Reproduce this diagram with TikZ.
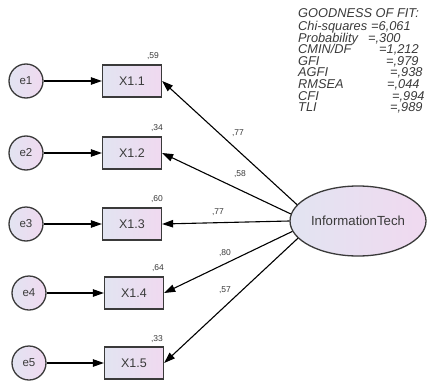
\documentclass[tikz,border=0pt]{standalone}
\usepackage{fontspec}
\newfontfamily\arial{Liberation Sans}
\usetikzlibrary{arrows.meta,shapes.geometric,shadings}
\definecolor{lblue}{HTML}{E2E4F1}
\definecolor{lpink}{HTML}{F0D9F0}
\definecolor{edge}{HTML}{3A3A3A}
\definecolor{txt}{HTML}{3A3A3A}
\tikzset{
  obs/.style={draw=edge, line width=1.3pt, left color=lblue, right color=lpink,
    minimum width=59pt, minimum height=32pt, inner sep=0pt,
    font=\arial\fontsize{12.5}{14}\selectfont, text=txt},
  err/.style={circle, draw=edge, line width=1.3pt, left color=lblue, right color=lpink,
    minimum size=34pt, inner sep=0pt, font=\arial\fontsize{11.5}{13}\selectfont, text=txt},
  lat/.style={ellipse, draw=edge, line width=1.3pt, left color=lblue, right color=lpink,
    minimum width=136pt, minimum height=70pt, inner sep=0pt,
    font=\arial\fontsize{13.2}{15}\selectfont, text=txt},
  arr/.style={-{Triangle[length=11pt,width=7.5pt]}, line width=1.1pt, draw=black},
  small/.style={font=\arial\fontsize{8.5}{9}\selectfont, text=txt, inner sep=0pt},
  gof/.style={font=\arial\itshape\fontsize{12.8}{14}\selectfont, text=txt, inner sep=0pt, anchor=base west},
}
\begin{document}
\begin{tikzpicture}[x=1pt,y=-1pt]
\useasboundingbox (0,0) rectangle (427,385);
% observed
\node[obs] (x1) at (132,81) {X1.1};
\node[obs] (x2) at (132,153) {X1.2};
\node[obs] (x3) at (132,224) {X1.3};
\node[obs] (x4) at (134,293) {X1.4};
\node[obs] (x5) at (134,363) {X1.5};
% errors
\node[err] (e1) at (26,81) {e1};
\node[err] (e2) at (26,153) {e2};
\node[err] (e3) at (26,224) {e3};
\node[err] (e4) at (29,293) {e4};
\node[err] (e5) at (29,363) {e5};
% latent
\node[lat] (it) at (358,221) {InformationTech};
% error arrows
\foreach \i in {1,...,5} \draw[arr] (e\i) -- (x\i);
% loadings
\draw[arr] (it.165) -- (x1.east);
\draw[arr] (it.174) -- (x2.east);
\draw[arr] (it.180) -- (x3.east);
\draw[arr] (it.189) -- (x4.east);
\draw[arr] (it.196) -- (x5.east);
% R2 labels
\node[small] (r1) at (153,56) {,59};
\node[small] (r2) at (157,128) {,34};
\node[small] (r3) at (157,199) {,60};
\node[small] (r4) at (158,268) {,64};
\node[small] (r5) at (157,339) {,33};
% path labels
\node[small] (l1) at (238,133) {,77};
\node[small] (l2) at (240,174) {,58};
\node[small] (l3) at (218,212) {,77};
\node[small] (l4) at (225,253) {,80};
\node[small] (l5) at (225,290) {,57};
% goodness of fit
\node[gof] (g0) at (298,18) {GOODNESS OF FIT:};
\node[gof] (g1) at (298,31) {Chi-squares};
\node[gof] (g2) at (298,42.5) {Probability};
\node[gof] (g3) at (298,54) {CMIN/DF};
\node[gof] (g4) at (298,65.5) {GFI};
\node[gof] (g5) at (298,77) {AGFI};
\node[gof] (g6) at (298,88.5) {RMSEA};
\node[gof] (g7) at (298,100) {CFI};
\node[gof] (g8) at (298,111.5) {TLI};
\node[gof] (v1) at (371,31) {=6,061};
\node[gof] (v2) at (368,42.5) {=,300};
\node[gof] (v3) at (379,54) {=1,212};
\node[gof] (v4) at (386,65.5) {=,979};
\node[gof] (v5) at (390,77) {=,938};
\node[gof] (v6) at (387,88.5) {=,044};
\node[gof] (v7) at (392,100) {=,994};
\node[gof] (v8) at (390,111.5) {=,989};
\end{tikzpicture}
\end{document}
